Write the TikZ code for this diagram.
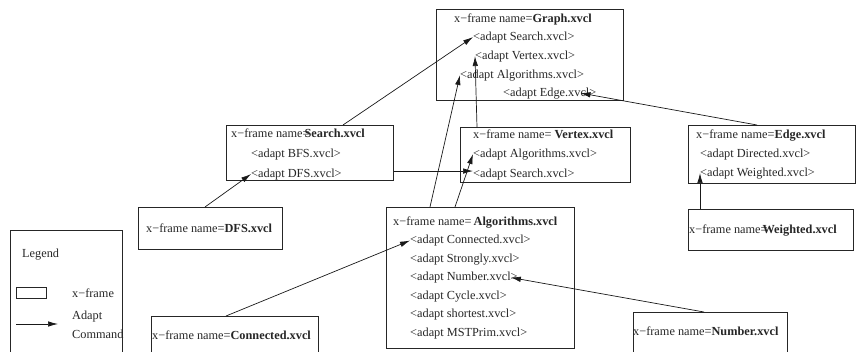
\documentclass[tikz,border=0pt]{standalone}
\usepackage{fontspec}
\setmainfont{Liberation Serif}
\usetikzlibrary{arrows.meta,calc}
\newcommand\fs{\fontsize{12.3}{14}\selectfont}
\begin{document}
\begin{tikzpicture}[x=1pt,y=-1pt,
  frame/.style={draw=black!85, line width=0.8pt, anchor=north west, inner sep=0pt},
  txt/.style={anchor=base west, inner sep=0pt, font=\fs, text=black!85},
  adapt/.style={-{Latex[length=10pt,width=5.5pt]}, line width=0.7pt, draw=black!90}]
\useasboundingbox (0,0) rectangle (857,351);
\clip (0,0) rectangle (857,351);
% Graph
\node[frame, minimum width=187pt, minimum height=91pt] (graph) at (436,9) {};
\node[txt] (gT) at (454,22) {x−frame name=\textbf{Graph.xvcl}};
\node[txt] (gS) at (473,40) {<adapt Search.xvcl>};
\node[txt] (gV) at (475,59) {<adapt Vertex.xvcl>};
\node[txt] (gA) at (460,78) {<adapt Algorithms.xvcl>};
\node[txt] (gE) at (503,96) {<adapt Edge.xvcl>};
% Search
\node[frame, minimum width=167pt, minimum height=55pt] (search) at (226,125) {};
\node[txt] (sT) at (231,137) {x−frame name=\kern-5pt\textbf{Search.xvcl}};
\node[txt] (sB) at (251,157) {<adapt BFS.xvcl>};
\node[txt] (sD) at (251,177) {<adapt DFS.xvcl>};
% Vertex
\node[frame, minimum width=170pt, minimum height=55pt] (vertex) at (460,127) {};
\node[txt] (vT) at (473,138) {x−frame name= \textbf{Vertex.xvcl}};
\node[txt] (vA) at (473,157) {<adapt Algorithms.xvcl>};
\node[txt] (vS) at (473,177) {<adapt Search.xvcl>};
% Edge
\node[frame, minimum width=167pt, minimum height=58pt] (edge) at (688,125) {};
\node[txt] (eT) at (696,138) {x−frame name=\textbf{Edge.xvcl}};
\node[txt] (eD) at (700,157) {<adapt Directed.xvcl>};
\node[txt] (eW) at (700,176) {<adapt Weighted.xvcl>};
% DFS
\node[frame, minimum width=144pt, minimum height=42pt] (dfs) at (138,207) {};
\node[txt] (dT) at (146,232) {x−frame name=\textbf{DFS.xvcl}};
% Algorithms
\node[frame, minimum width=188pt, minimum height=141pt] (alg) at (386,207) {};
\node[txt] (aT) at (393,225) {x−frame name=\,\textbf{Algorithms.xvcl}};
\node[txt] (aC) at (410,243.5) {<adapt Connected.xvcl>};
\node[txt] (aS) at (410,262) {<adapt Strongly.xvcl>};
\node[txt] (aN) at (410,280.5) {<adapt Number.xvcl>};
\node[txt] (aY) at (410,299) {<adapt Cycle.xvcl>};
\node[txt] (aH) at (410,317.5) {<adapt shortest.xvcl>};
\node[txt] (aM) at (410,336) {<adapt MSTPrim.xvcl>};
% Weighted
\node[frame, minimum width=165pt, minimum height=41pt] (weighted) at (688,209) {};
\node[txt] (wT) at (689,233) {x−frame name=\kern-5pt\textbf{Weighted.xvcl}};
% Legend
\node[frame, minimum width=112pt, minimum height=140pt] (legend) at (10,230) {};
\node[txt] (lL) at (22,257) {Legend};
\node[frame, minimum width=30pt, minimum height=11pt] (lbox) at (16,287) {};
\node[txt] (lX) at (72,297) {x−frame};
\coordinate (la) at (16,324);
\coordinate (lb) at (58,324);
\node[txt] (lA) at (72,319) {Adapt};
\node[txt] (lC) at (72,338) {Command};
% Connected
\node[frame, minimum width=167pt, minimum height=50pt] (conn) at (151,316) {};
\node[txt] (cT) at (152,339) {x−frame name=\textbf{Connected.xvcl}};
% Number
\node[frame, minimum width=154pt, minimum height=50pt] (num) at (633,312) {};
\node[txt] (nT) at (633,335) {x−frame name=\textbf{Number.xvcl}};
% connectors
\draw[adapt] ($(search.north west)+(117,0)$) -- (gS.west);
\draw[adapt] ($(alg.north west)+(44,0)$) -- (gA.west);
\draw[adapt] ($(alg.north west)+(69,0)$) -- (vA.west);
\draw[adapt] ($(vertex.north west)+(17,0)$) -- (gV.west);
\draw[adapt] ($(search.east |- vS.west)+(0,-3)$) -- ($(vS.west)+(0,-3)$);
\draw[adapt] ($(edge.north west)+(69,0)$) -- ($(gE.east)+(-16,0)$);
\draw[adapt] ($(dfs.north west)+(67,0)$) -- (sD.west);
\draw[adapt] (eW.west |- weighted.north) -- (eW.west);
\draw[adapt] ($(conn.north west)+(75,0)$) -- (aC.west);
\draw[adapt] ($(num.north west)+(71,0)$) -- ($(aN.east)+(-7,0)$);
\draw[adapt] (la) -- (lb);
\end{tikzpicture}
\end{document}
